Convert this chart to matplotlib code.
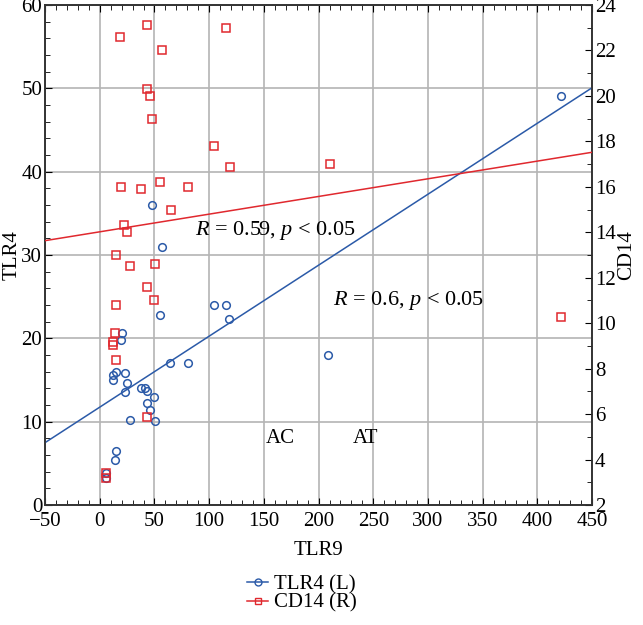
import matplotlib
matplotlib.use("Agg")
import matplotlib.pyplot as plt
from matplotlib.ticker import MultipleLocator
import numpy as np

plt.rcParams['font.family'] = ['Liberation Serif', 'DejaVu Serif']
plt.rcParams['mathtext.fontset'] = 'custom'
plt.rcParams['mathtext.rm'] = 'Liberation Serif'
plt.rcParams['mathtext.it'] = 'Liberation Serif:italic'

# TLR4 (left axis) vs TLR9
tlr9_a = [48.1, 56.6, 55.1, 20.1, 19.2, 14.9, 12.4, 12.4, 22.8, 25.0, 23.4, 37.4, 41.7,
          43.0, 49.3, 43.0, 46.0, 27.4, 50.8, 14.6, 14.3, 5.8, 5.8, 64.0, 80.4, 104.2,
          115.2, 118.5, 209.0, 421.7]
tlr4 = [36.0, 31.0, 22.8, 20.7, 19.8, 16.0, 15.6, 15.0, 15.9, 14.7, 13.6, 14.0, 14.0,
        13.7, 13.0, 12.3, 11.4, 10.2, 10.1, 6.5, 5.4, 3.8, 3.3, 17.0, 17.0, 24.0,
        24.0, 22.3, 18.0, 49.1]

# CD14 (right axis) vs TLR9
tlr9_b = [43.2, 18.3, 56.7, 115.4, 43.5, 45.7, 48.1, 104.5, 119.1, 210.5, 19.2, 38.0,
          54.8, 80.4, 64.9, 22.2, 24.7, 15.2, 27.7, 50.5, 43.0, 49.3, 14.9, 14.3,
          11.9, 12.4, 15.2, 43.2, 5.8, 5.8, 421.4]
cd14 = [23.12, 22.61, 22.02, 23.0, 20.30, 19.98, 18.98, 17.81, 16.87, 17.02, 16.01, 15.90,
        16.21, 16.01, 14.98, 14.31, 14.01, 13.0, 12.50, 12.59, 11.59, 11.0, 10.80, 9.58,
        9.19, 9.04, 8.38, 5.89, 3.42, 3.17, 10.26]

# regression lines (slope, intercept)
tlr4_fit = (0.0852, 11.74)
cd14_fit = (0.00778, 14.02)

blue = '#2b5aa8'
red = '#e0282e'

fig = plt.figure(figsize=(6.43, 6.25), dpi=100)
ax = fig.add_axes([0.070, 0.192, 0.851, 0.800])
ax2 = ax.twinx()

xs = np.array([-50, 450])
ax.plot(tlr9_a, tlr4, 'o', mfc='none', mec=blue, ms=5.5, mew=1.1, zorder=3)
ax.plot(xs, tlr4_fit[0] * xs + tlr4_fit[1], color=blue, lw=1.1, zorder=3)
ax2.plot(tlr9_b, cd14, 's', mfc='none', mec=red, ms=5.5, mew=1.1, zorder=3)
ax2.plot(xs, cd14_fit[0] * xs + cd14_fit[1], color=red, lw=1.1, zorder=3)

ax.set_xlim(-50, 450)
ax.set_ylim(0, 60)
ax2.set_ylim(2, 24)

ax.xaxis.set_major_locator(MultipleLocator(50))
ax.xaxis.set_minor_locator(MultipleLocator(10))
ax.yaxis.set_major_locator(MultipleLocator(10))
ax.yaxis.set_minor_locator(MultipleLocator(2))
ax2.yaxis.set_major_locator(MultipleLocator(2))
ax2.yaxis.set_minor_locator(MultipleLocator(1))

ax.grid(True, which='major', color='#b4b4b4', lw=1.2)
ax.set_axisbelow(True)

ax.tick_params(axis='x', which='both', direction='in', top=True, labelsize=15, pad=5)
ax.tick_params(axis='y', which='both', direction='in', left=True, right=False,
               labelsize=15, pad=2)
ax2.tick_params(axis='y', which='both', direction='in', labelsize=15, pad=2)
ax.tick_params(which='major', length=5)
ax.tick_params(which='minor', length=3.5)
ax2.tick_params(which='major', length=5)
ax2.tick_params(which='minor', length=3.5)

for a in (ax, ax2):
    for s in a.spines.values():
        s.set_color('#333333')
        s.set_linewidth(1.2)

ax.set_xlabel('TLR9', fontsize=15, labelpad=7)
ax.set_ylabel('TLR4', fontsize=15, labelpad=0)
ax2.set_ylabel('CD14', fontsize=15, labelpad=1)

ax.text(87, 33, r'$R$ = 0.59, $p$ < 0.05', fontsize=16, va='center', ha='left')
ax.text(213, 24.6, r'$R$ = 0.6, $p$ < 0.05', fontsize=16, va='center', ha='left')
ax.text(165, 8.0, 'AC', fontsize=15, va='center', ha='center')
ax.text(243, 8.0, 'AT', fontsize=15, va='center', ha='center')

h1, = ax.plot([], [], 'o-', color=blue, mfc='none', mec=blue, ms=5, lw=1.1)
h2, = ax.plot([], [], 's-', color=red, mfc='none', mec=red, ms=5, lw=1.1)
fig.legend([h1, h2], ['TLR4 (L)', 'CD14 (R)'], loc='center', bbox_to_anchor=(0.47, 0.05),
           frameon=False, fontsize=15, handlelength=1.0, handletextpad=0.3,
           labelspacing=-0.05, borderpad=0)

fig.savefig('out.png', dpi=100)
